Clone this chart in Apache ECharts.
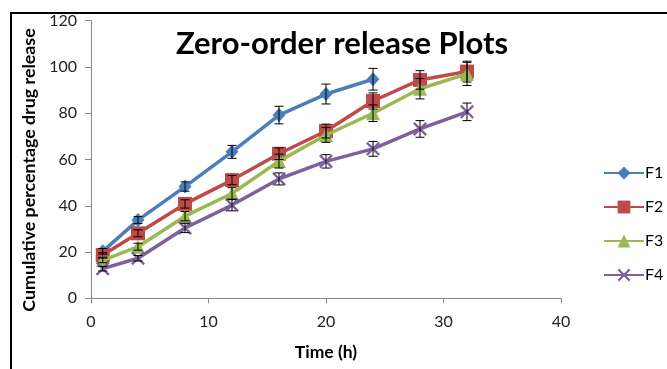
<!DOCTYPE html>
<html>
<head>
<meta charset="utf-8">
<script src="https://cdn.jsdelivr.net/npm/echarts@6/dist/echarts.min.js"></script>
<style>html,body{margin:0;padding:0;background:#fff}#c{width:667px;height:369px}</style>
</head>
<body>
<div id="c"></div>
<script>
var time = [1, 4, 8, 12, 16, 20, 24, 28, 32];
var seriesNames = ['F1', 'F2', 'F3', 'F4'];
var F1 = [20.3, 33.8, 48.3, 63.3, 79.2, 88.3, 94.7];
var F2 = [18.7, 28.1, 40.8, 51.1, 62.5, 72.3, 85.3, 94.4, 98.0];
var F3 = [16.4, 22.3, 35.5, 45.3, 59.3, 70.6, 80.0, 90.6, 97.0];
var F4 = [12.8, 17.3, 30.4, 40.3, 51.6, 59.2, 64.6, 73.2, 80.6];
var F1err = [1.2, 1.5, 2.0, 2.8, 3.8, 4.3, 4.7];
var F2err = [1.0, 1.5, 1.8, 2.0, 2.5, 3.0, 3.5, 4.0, 4.5];
var F3err = [1.0, 1.5, 2.0, 2.5, 3.0, 3.2, 3.6, 4.4, 5.0];
var F4err = [1.0, 1.2, 2.0, 2.5, 2.6, 2.9, 3.2, 3.6, 3.8];
var xTicks = [0, 10, 20, 30, 40];
var yTicks = [0, 20, 40, 60, 80, 100, 120];
var yAxisTitle = 'Cumulative percentage drug release';

var values = [F1, F2, F3, F4];
var errors = [F1err, F2err, F3err, F4err];
var colors = ['#4A7EBB', '#BE4B48', '#98B954', '#7D60A0'];
var symbols = ['diamond', 'rect', 'triangle',
  'path://M0,1.2L1.2,0L5,3.8L8.8,0L10,1.2L6.2,5L10,8.8L8.8,10L5,6.2L1.2,10L0,8.8L3.8,5Z'];
var symbolSizes = [[13, 14], 14, 14, 14];
var FONT = 'Lato';

function pairs(v) { return v.map(function (y, i) { return [time[i], y]; }); }
function errData(v, e) { return v.map(function (y, i) { return [time[i], y, e[i]]; }); }

var series = [];
values.forEach(function (v, k) {
  series.push({
    name: seriesNames[k], type: 'line', data: pairs(v),
    symbol: symbols[k], symbolSize: symbolSizes[k], showSymbol: true,
    lineStyle: { width: 3.5, color: colors[k] },
    itemStyle: { color: colors[k], borderWidth: 0 },
    z: 2 + k, animation: false
  });
});
values.forEach(function (v, k) {
  series.push({
    type: 'custom', data: errData(v, errors[k]), z: 10, animation: false, silent: true,
    renderItem: function (params, api) {
      var x = api.value(0), y = api.value(1), e = api.value(2);
      var top = api.coord([x, y + e]);
      var bot = api.coord([x, y - e]);
      var hw = 4.5;
      var st = { stroke: '#000', lineWidth: 1 };
      return {
        type: 'group', children: [
          { type: 'line', shape: { x1: top[0], y1: top[1], x2: bot[0], y2: bot[1] }, style: st },
          { type: 'line', shape: { x1: top[0] - hw, y1: top[1], x2: top[0] + hw, y2: top[1] }, style: st },
          { type: 'line', shape: { x1: bot[0] - hw, y1: bot[1], x2: bot[0] + hw, y2: bot[1] }, style: st }
        ]
      };
    }
  });
});

var chart = echarts.init(document.getElementById('c'), null, { renderer: 'canvas' });
chart.setOption({
  animation: false,
  backgroundColor: '#fff',
  title: {
    text: 'Zero-order release Plots', left: 337, top: 23, textAlign: 'center',
    textStyle: { fontFamily: FONT, fontWeight: 'bold', fontSize: 31, color: '#000' }
  },
  grid: { left: 91, right: 106, top: 20.7, bottom: 70.7 },
  legend: {
    orient: 'vertical', left: 598, top: 160, itemGap: 18, itemWidth: 40, itemHeight: 16,
    data: seriesNames,
    textStyle: { fontFamily: FONT, fontSize: 16, color: '#000', padding: [0, 0, 0, -4] }
  },
  xAxis: {
    type: 'value', min: xTicks[0], max: xTicks[xTicks.length - 1], interval: 10,
    name: 'Time (h)', nameLocation: 'middle', nameGap: 45,
    nameTextStyle: { fontFamily: FONT, fontWeight: 'bold', fontSize: 17.5, color: '#000' },
    axisLine: { lineStyle: { color: '#868686', width: 1 } },
    axisTick: { show: true, length: 5, lineStyle: { color: '#868686' } },
    axisLabel: { fontFamily: FONT, fontSize: 16, color: '#222', margin: 16 },
    splitLine: { show: false }
  },
  yAxis: {
    type: 'value', min: yTicks[0], max: yTicks[yTicks.length - 1], interval: 20,
    axisLine: { show: true, lineStyle: { color: '#868686', width: 1 } },
    axisTick: { show: true, length: 6, lineStyle: { color: '#868686' } },
    axisLabel: { fontFamily: FONT, fontSize: 16, color: '#222', margin: 14 },
    splitLine: { show: false }
  },
  graphic: [
    { type: 'line', shape: { x1: 10, y1: 13, x2: 667, y2: 13 }, style: { stroke: '#000', lineWidth: 2 }, z: 100 },
    { type: 'line', shape: { x1: 11, y1: 12, x2: 11, y2: 369 }, style: { stroke: '#000', lineWidth: 2 }, z: 100 },
    {
      type: 'text', x: 29, y: 170, rotation: Math.PI / 2, z: 100,
      style: {
        text: yAxisTitle, fill: '#000', align: 'center', verticalAlign: 'middle',
        font: 'bold 17.8px Lato'
      }
    }
  ],
  series: series
});
</script>
</body>
</html>
